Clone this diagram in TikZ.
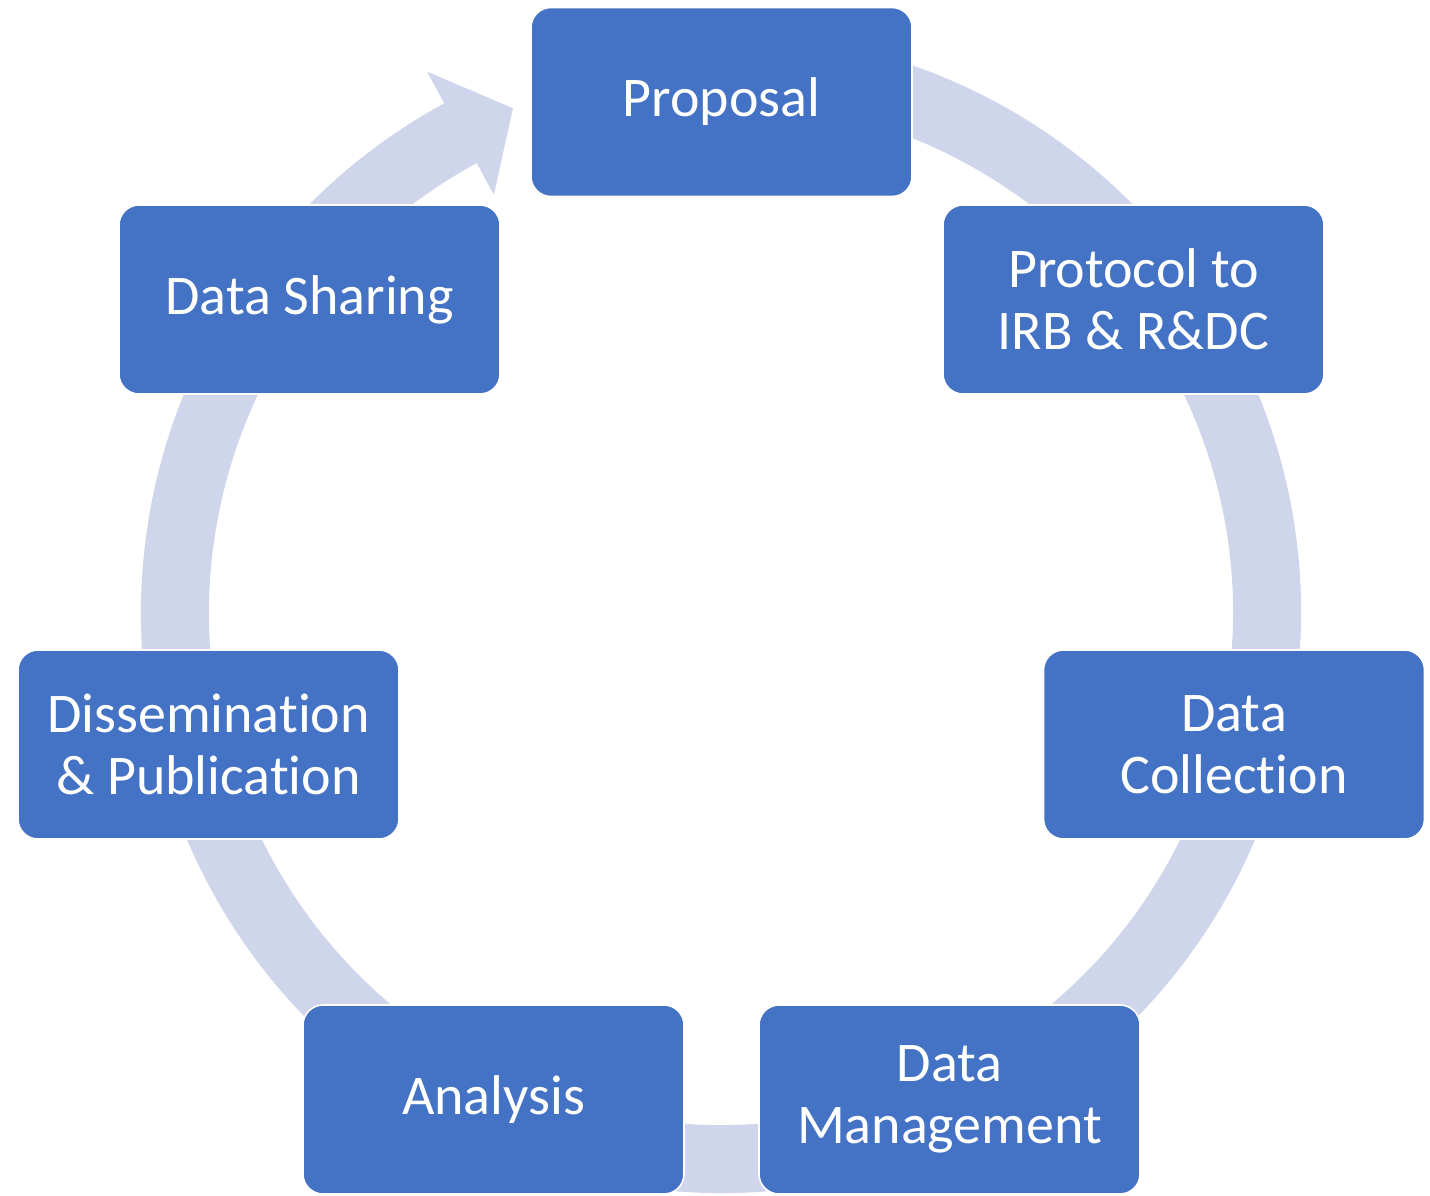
\documentclass[tikz,border=0pt]{standalone}
\usepackage{fontspec}
\setmainfont{Carlito}[Ligatures=NoCommon]
\usepackage{xcolor}
\definecolor{stepblue}{HTML}{4472C4}
\definecolor{ringgrey}{HTML}{CFD5EA}
\usetikzlibrary{positioning}

\begin{document}
\begin{tikzpicture}[x=0.5pt,y=0.5pt,yscale=-1,xscale=1,
    stage/.style={draw=white, line width=0.8pt, fill=stepblue, rounded corners=10pt,
        minimum width=190.5pt, minimum height=94.5pt, align=center, text=white,
        font=\fontsize{28}{31}\selectfont, inner sep=0pt}]
    \useasboundingbox (0,0) rectangle (1430,1195);

    %Shape: Circular Arrow [id:ring]
    \begin{scope}[shift={(721,613)}, yscale=-1]
    \fill [ringgrey] (80:580) arc [start angle=80, end angle=-241.5, radius=580]
        -- (118.5:616) -- (112.4:546) -- (118.5:476) -- (118.5:512)
        arc [start angle=-241.5, end angle=80, radius=512] -- cycle ;
    \end{scope}

    % Text Node
    \node [stage] (proposal) at (721.5,102) {Proposal};
    % Text Node
    \node [stage] (protocol) at (1133.5,299.5) {Protocol to\\IRB \& R\&DC};
    % Text Node
    \node [stage] (collection) at (1234,744.5) {Data\\Collection};
    % Text Node
    \node [stage] (management) at (949.5,1099.5) {Data\\Management};
    % Text Node
    \node [stage] (analysis) at (493.5,1099.5) {Analysis};
    % Text Node
    \node [stage] (dissemination) at (208.5,744.5) {Dissemination\\\& Publication};
    % Text Node
    \node [stage] (sharing) at (309.5,299.5) {Data Sharing};

\end{tikzpicture}
\end{document}
